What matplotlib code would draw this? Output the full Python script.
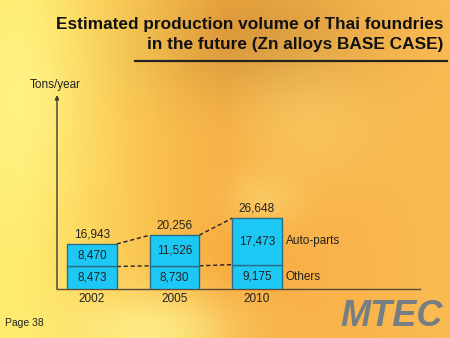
import numpy as np
import matplotlib
matplotlib.use('Agg')
import matplotlib.pyplot as plt

# 数据
years = ['2002', '2005', '2010']
others = [8473, 8730, 9175]
auto_parts = [8470, 11526, 17473]
totals = [16943, 20256, 26648]

plt.rcParams['font.family'] = ['Liberation Sans', 'DejaVu Sans']

fig = plt.figure(figsize=(4.5, 3.38), dpi=100)

# 背景：黄橙渐变
bg = fig.add_axes([0, 0, 1, 1])
bg.set_axis_off()
h, w = 338, 450
yy, xx = np.mgrid[0:h, 0:w]
t = np.clip(xx / w * 1.1 - 0.05, 0, 1)
base = np.array([1.0, 0.92, 0.42])
mid = np.array([0.97, 0.67, 0.25])
right = np.array([0.98, 0.73, 0.32])
img = np.zeros((h, w, 3))
for c in range(3):
    img[..., c] = np.where(t < 0.5,
                           base[c] + (mid[c] - base[c]) * (t / 0.5),
                           mid[c] + (right[c] - mid[c]) * ((t - 0.5) / 0.5))
# 上方偏暗的橙色区域
dark = np.exp(-(((xx - 260) / 110) ** 2 + ((yy - 40) / 60) ** 2))
img = img * (1 - 0.12 * dark[..., None])
# 左下和中间的亮斑
for cx, cy, sx, sy, a in [(150, 330, 90, 40, 0.7), (20, 100, 60, 120, 0.5),
                          (300, 120, 80, 70, 0.25), (260, 200, 40, 30, 0.3)]:
    g = a * np.exp(-(((xx - cx) / sx) ** 2 + ((yy - cy) / sy) ** 2))
    img = img + (np.array([1.0, 0.98, 0.6]) - img) * g[..., None]
bg.imshow(np.clip(img, 0, 1), extent=[0, 1, 0, 1], aspect='auto', zorder=0)
bg.set_xlim(0, 1)
bg.set_ylim(0, 1)

# 标题
fig.text(443 / 450, 1 - 25 / 338, 'Estimated production volume of Thai foundries',
         ha='right', va='center', fontsize=12.4, fontweight='bold', color='#111111')
fig.text(443 / 450, 1 - 45 / 338, 'in the future (Zn alloys BASE CASE)',
         ha='right', va='center', fontsize=12.4, fontweight='bold', color='#111111')
bg.plot([135 / 450, 447 / 450], [1 - 61 / 338, 1 - 61 / 338], color='#222222', lw=1.6)

# 柱状图
ax = fig.add_axes([57 / 450, 49 / 338, 363 / 450, 194 / 338])
ax.patch.set_alpha(0)
x = np.arange(len(years))
width = 0.6
ax.bar(x, others, width, color='#1ec8f5', edgecolor='#2b6d86', lw=1.0, zorder=3)
ax.bar(x, auto_parts, width, bottom=others, color='#1ec8f5', edgecolor='#2b6d86',
       lw=1.0, zorder=3)
ax.set_xlim(-0.424, 3.976)
ax.set_ylim(0, 73000)

# 虚线连接
for i in range(len(years) - 1):
    ax.plot([x[i] + width / 2, x[i + 1] - width / 2], [totals[i], totals[i + 1]],
            ls=(0, (3, 2)), color='#222222', lw=1.0, zorder=2)
    ax.plot([x[i] + width / 2, x[i + 1] - width / 2], [others[i], others[i + 1]],
            ls=(0, (3, 2)), color='#222222', lw=1.0, zorder=2)

fs = 8.5
for i in range(len(years)):
    ax.text(x[i], totals[i] + 1300, f'{totals[i]:,}', ha='center', va='bottom',
            fontsize=fs, color='#222222')
    ax.text(x[i], others[i] + auto_parts[i] / 2, f'{auto_parts[i]:,}', ha='center',
            va='center', fontsize=fs, color='#222222', zorder=4)
    ax.text(x[i], others[i] / 2, f'{others[i]:,}', ha='center', va='center',
            fontsize=fs, color='#222222', zorder=4)

ax.text(x[-1] + width / 2 + 0.05, others[-1] + auto_parts[-1] / 2, 'Auto-parts',
        ha='left', va='center', fontsize=fs, color='#222222')
ax.text(x[-1] + width / 2 + 0.05, others[-1] / 2, 'Others',
        ha='left', va='center', fontsize=fs, color='#222222')

ax.set_xticks(x)
ax.set_xticklabels(years, fontsize=fs, color='#222222')
ax.tick_params(axis='x', length=0, pad=3)
ax.set_yticks([])
for s in ['top', 'right']:
    ax.spines[s].set_visible(False)
ax.spines['left'].set_visible(False)
ax.spines['bottom'].set_color('#5a4a3a')
ax.spines['bottom'].set_linewidth(1.0)
# 纵轴箭头
ax.annotate('', xy=(-0.424, 73000), xytext=(-0.424, 0),
            arrowprops=dict(arrowstyle='-|>', color='#3a3a3a', lw=1.0,
                            mutation_scale=6, shrinkA=0, shrinkB=0),
            annotation_clip=False)
fig.text(30 / 450, 1 - 85 / 338, 'Tons/year', ha='left', va='center',
         fontsize=8.5, color='#222222')

# 页脚
fig.text(5 / 450, 1 - 323 / 338, 'Page 38', ha='left', va='center',
         fontsize=7.5, color='#222222')
fig.text(443 / 450, 1 - 316 / 338, 'MTEC', ha='right', va='center', fontsize=26,
         fontweight='bold', fontstyle='italic', color='#6f7b87', alpha=0.95)

fig.savefig('out.png', dpi=100)
